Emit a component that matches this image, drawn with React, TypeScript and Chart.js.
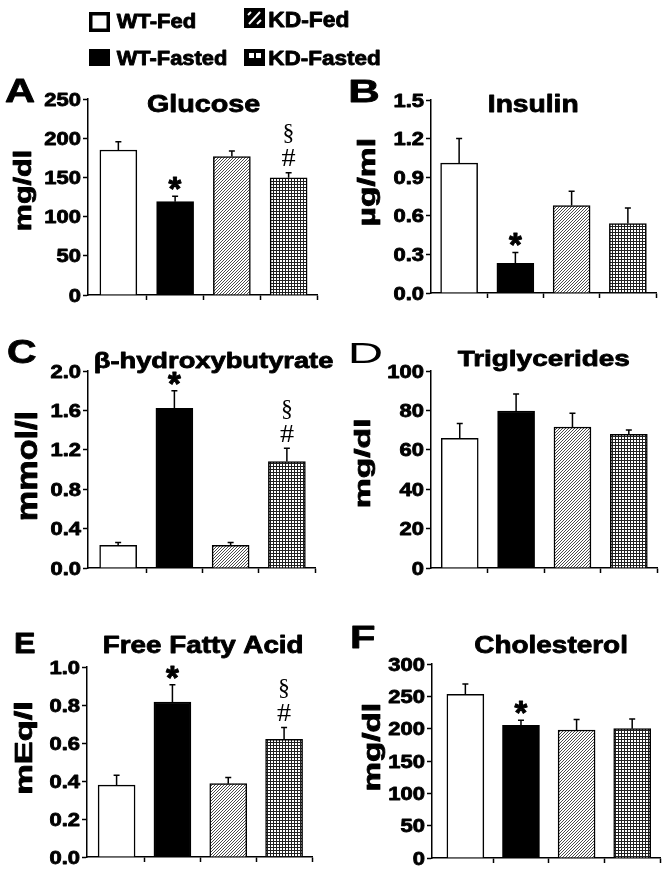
import React, { useEffect, useRef } from 'react';
import { Chart, registerables } from 'chart.js';

Chart.register(...registerables);

// ---------------- DATA ----------------
const groups = ['WT-Fed', 'WT-Fasted', 'KD-Fed', 'KD-Fasted'];
const panelLetters = ['A', 'B', 'C', 'D', 'E', 'F'];
const panelTitles = ['Glucose', 'Insulin', 'β-hydroxybutyrate', 'Triglycerides', 'Free Fatty Acid', 'Cholesterol'];
const panelUnits = ['mg/dl', 'µg/ml', 'mmol/l', 'mg/dl', 'mEq/l', 'mg/dl'];

const glucoseMean = [185, 119, 176.5, 149.6];
const glucoseSem = [10.5, 7, 7.2, 6.4];
const glucoseTicks = [0, 50, 100, 150, 200, 250];
const glucoseTickLabels = ['0', '50', '100', '150', '200', '250'];
const glucoseMarks = [[], ['*'], [], ['#', '§']];

const insulinMean = [1.01, 0.23, 0.68, 0.54];
const insulinSem = [0.19, 0.085, 0.11, 0.12];
const insulinTicks = [0, 0.3, 0.6, 0.9, 1.2, 1.5];
const insulinTickLabels = ['0.0', '0.3', '0.6', '0.9', '1.2', '1.5'];
const insulinMarks = [[], ['*'], [], []];

const bhbMean = [0.23, 1.62, 0.23, 1.08];
const bhbSem = [0.03, 0.18, 0.03, 0.135];
const bhbTicks = [0, 0.4, 0.8, 1.2, 1.6, 2.0];
const bhbTickLabels = ['0.0', '0.4', '0.8', '1.2', '1.6', '2.0'];
const bhbMarks = [[], ['*'], [], ['#', '§']];

const tgMean = [65.8, 79.7, 71.5, 67.8];
const tgSem = [7.6, 8.6, 7.1, 2.2];
const tgTicks = [0, 20, 40, 60, 80, 100];
const tgTickLabels = ['0', '20', '40', '60', '80', '100'];
const tgMarks = [[], [], [], []];

const ffaMean = [0.378, 0.816, 0.386, 0.619];
const ffaSem = [0.052, 0.091, 0.032, 0.062];
const ffaTicks = [0, 0.2, 0.4, 0.6, 0.8, 1.0];
const ffaTickLabels = ['0.0', '0.2', '0.4', '0.6', '0.8', '1.0'];
const ffaMarks = [[], ['*'], [], ['#', '§']];

const cholMean = [253, 205, 198, 200];
const cholSem = [16, 8, 16, 15];
const cholTicks = [0, 50, 100, 150, 200, 250, 300];
const cholTickLabels = ['0', '50', '100', '150', '200', '250', '300'];
const cholMarks = [[], ['*'], [], []];

const categoryBoundaries = [0.5, 1.5, 2.5, 3.5];

// ---------------- STYLE / LAYOUT ----------------
const SANS = '"Liberation Sans", Arial, Helvetica, sans-serif';
const SERIF = '"Liberation Serif", "Times New Roman", serif';
const BOLD_STROKE = 0.9;

type Panel = {
  mean: number[]; sem: number[]; ticks: number[]; tickLabels: string[]; marks: string[][];
  letter: string; title: string; unit: string;
  box: [number, number, number, number];
  area: { l: number; r: number; t: number; b: number };
  xMin: number;
  letterPos: [number, number, number, number, string];
  titlePos: [number, number, number, number];
  unitPos: [number, number, number, number];
};

const panels: Panel[] = [
  {
    mean: glucoseMean, sem: glucoseSem, ticks: glucoseTicks, tickLabels: glucoseTickLabels, marks: glucoseMarks,
    letter: panelLetters[0], title: panelTitles[0], unit: panelUnits[0],
    box: [0, 70, 336, 240], area: { l: 88, r: 317, t: 99, b: 295 }, xMin: -0.535,
    letterPos: [5, 101.7, 30, 23.3, 'bold'], titlePos: [147, 111.7, 113, 16.7], unitPos: [24.2, 190.8, 78.3, 21.7],
  },
  {
    mean: insulinMean, sem: insulinSem, ticks: insulinTicks, tickLabels: insulinTickLabels, marks: insulinMarks,
    letter: panelLetters[1], title: panelTitles[1], unit: panelUnits[1],
    box: [336, 70, 336, 240], area: { l: 431, r: 656, t: 100, b: 293 }, xMin: -0.5,
    letterPos: [351, 101.7, 26.7, 21.7, 'bold'], titlePos: [489, 111.7, 89, 16.7], unitPos: [368.5, 182.5, 85, 21.7],
  },
  {
    mean: bhbMean, sem: bhbSem, ticks: bhbTicks, tickLabels: bhbTickLabels, marks: bhbMarks,
    letter: panelLetters[2], title: panelTitles[2], unit: panelUnits[2],
    box: [0, 310, 336, 270], area: { l: 88, r: 315, t: 371, b: 568 }, xMin: -0.536,
    letterPos: [8.3, 363.3, 28.3, 23.3, 'bold'], titlePos: [95, 368, 238, 15.5], unitPos: [25.8, 466.7, 106.7, 21.7],
  },
  {
    mean: tgMean, sem: tgSem, ticks: tgTicks, tickLabels: tgTickLabels, marks: tgMarks,
    letter: panelLetters[3], title: panelTitles[3], unit: panelUnits[3],
    box: [336, 310, 336, 270], area: { l: 431, r: 657, t: 371, b: 568 }, xMin: -0.51,
    letterPos: [351, 363.3, 30, 20.3, 'normal'], titlePos: [457.7, 365.7, 171.6, 15.7], unitPos: [364.3, 463.3, 86.7, 20],
  },
  {
    mean: ffaMean, sem: ffaSem, ticks: ffaTicks, tickLabels: ffaTickLabels, marks: ffaMarks,
    letter: panelLetters[4], title: panelTitles[4], unit: panelUnits[4],
    box: [0, 580, 336, 292], area: { l: 87, r: 312, t: 667, b: 857 }, xMin: -0.53,
    letterPos: [15, 653.3, 20, 20.3, 'bold'], titlePos: [104, 652.7, 197.7, 16.7], unitPos: [25.8, 748.3, 90, 21.7],
  },
  {
    mean: cholMean, sem: cholSem, ticks: cholTicks, tickLabels: cholTickLabels, marks: cholMarks,
    letter: panelLetters[5], title: panelTitles[5], unit: panelUnits[5],
    box: [336, 580, 336, 292], area: { l: 432, r: 660, t: 664, b: 858 }, xMin: -0.6,
    letterPos: [352.7, 648.3, 21.6, 21.6, 'bold'], titlePos: [474.3, 652.7, 151.7, 16.7], unitPos: [373.5, 747.5, 85, 21.7],
  },
];

const markStyle: Record<string, { dy: number; w: number; h: number; family: string; weight: string }> = {
  '*': { dy: -12.5, w: 13, h: 12.5, family: SANS, weight: 'bold' },
  '#': { dy: -15, w: 14, h: 16, family: SERIF, weight: 'normal' },
  '§': { dy: -39, w: 10, h: 19, family: SERIF, weight: 'normal' },
};

// ---------------- TEXT HELPERS ----------------
function paint(ctx: CanvasRenderingContext2D, text: string, x: number, y: number, weight: string, sx: number) {
  ctx.fillStyle = '#000';
  ctx.fillText(text, x, y);
  if (weight === 'bold') {
    ctx.strokeStyle = '#000';
    ctx.lineJoin = 'round';
    ctx.lineWidth = BOLD_STROKE / Math.sqrt(sx);
    ctx.strokeText(text, x, y);
  }
}

function drawCapText(ctx: CanvasRenderingContext2D, text: string, left: number, baseline: number, width: number, capH: number, weight: string, family = SANS) {
  ctx.save();
  ctx.textAlign = 'left';
  ctx.textBaseline = 'alphabetic';
  ctx.font = `${weight} 100px ${family}`;
  const capA = ctx.measureText('H').actualBoundingBoxAscent || 71.6;
  const size = (100 * capH) / capA;
  ctx.font = `${weight} ${size}px ${family}`;
  const m = ctx.measureText(text);
  const inkW = m.actualBoundingBoxLeft + m.actualBoundingBoxRight;
  const sx = width / inkW;
  ctx.translate(left, baseline);
  ctx.scale(sx, 1);
  paint(ctx, text, m.actualBoundingBoxLeft, 0, weight, sx);
  ctx.restore();
}

function drawInkText(ctx: CanvasRenderingContext2D, text: string, cx: number, cy: number, w: number, h: number, weight: string, family: string, rot = 0) {
  ctx.save();
  ctx.textAlign = 'left';
  ctx.textBaseline = 'alphabetic';
  ctx.font = `${weight} 100px ${family}`;
  let m = ctx.measureText(text);
  const h100 = m.actualBoundingBoxAscent + m.actualBoundingBoxDescent;
  const size = (100 * h) / h100;
  ctx.font = `${weight} ${size}px ${family}`;
  m = ctx.measureText(text);
  const iw = m.actualBoundingBoxLeft + m.actualBoundingBoxRight;
  const sx = w / iw;
  ctx.translate(cx, cy);
  ctx.rotate(rot);
  ctx.scale(sx, 1);
  paint(ctx, text, -iw / 2 + m.actualBoundingBoxLeft, (m.actualBoundingBoxAscent - m.actualBoundingBoxDescent) / 2, weight, sx);
  ctx.restore();
}

function drawTickLabel(ctx: CanvasRenderingContext2D, text: string, right: number, cy: number) {
  ctx.save();
  ctx.textAlign = 'left';
  ctx.textBaseline = 'alphabetic';
  ctx.font = `bold 18px ${SANS}`;
  const capA = ctx.measureText('0').actualBoundingBoxAscent || 13;
  const m = ctx.measureText(text);
  ctx.translate(right, cy);
  ctx.scale(1.22, 1);
  paint(ctx, text, -m.actualBoundingBoxRight, capA / 2, 'bold', 1.22);
  ctx.restore();
}

// ---------------- PATTERNS ----------------
function makeHatch(ctx: CanvasRenderingContext2D) {
  const c = document.createElement('canvas');
  c.width = 3; c.height = 3;
  const g = c.getContext('2d')!;
  g.fillStyle = '#ffffff'; g.fillRect(0, 0, 3, 3);
  g.fillStyle = '#4a4a4a';
  for (let i = 0; i < 3; i++) g.fillRect(i, 2 - i, 1, 1);
  return ctx.createPattern(c, 'repeat')!;
}

function makeGrid(ctx: CanvasRenderingContext2D) {
  const c = document.createElement('canvas');
  c.width = 3; c.height = 3;
  const g = c.getContext('2d')!;
  g.fillStyle = '#ffffff'; g.fillRect(0, 0, 3, 3);
  g.fillStyle = '#202020';
  g.fillRect(0, 0, 3, 1);
  g.fillRect(0, 0, 1, 3);
  return ctx.createPattern(c, 'repeat')!;
}

// ---------------- CHART ----------------
function overlayPlugin(p: Panel) {
  const [bx, by] = p.box;
  return {
    id: 'overlay',
    afterDatasetsDraw(chart: any) {
      const ctx: CanvasRenderingContext2D = chart.ctx;
      const xs = chart.scales.x, ys = chart.scales.y;
      ctx.save();
      ctx.strokeStyle = '#000';
      ctx.lineWidth = 1.5;
      p.mean.forEach((m, i) => {
        const x = xs.getPixelForValue(i);
        const y0 = ys.getPixelForValue(m);
        const y1 = ys.getPixelForValue(m + p.sem[i]);
        ctx.beginPath();
        ctx.moveTo(x, y0); ctx.lineTo(x, y1);
        ctx.moveTo(x - 3, y1); ctx.lineTo(x + 3, y1);
        ctx.stroke();
        p.marks[i].forEach((s) => {
          const st = markStyle[s];
          drawInkText(ctx, s, x, y1 + st.dy, st.w, st.h, st.weight, st.family);
        });
      });
      ctx.restore();
    },
    afterDraw(chart: any) {
      const ctx: CanvasRenderingContext2D = chart.ctx;
      const ys = chart.scales.y;
      const left = chart.chartArea.left;
      p.ticks.forEach((v, i) => drawTickLabel(ctx, p.tickLabels[i], left - 7, ys.getPixelForValue(v)));
      const [lx, lb, lw, lh, lwt] = p.letterPos;
      drawCapText(ctx, p.letter, lx - bx, lb - by, lw, lh, lwt);
      const [tx, tb, tw, th] = p.titlePos;
      drawCapText(ctx, p.title, tx - bx, tb - by, tw, th, 'bold');
      const [ux, uy, ul, ut] = p.unitPos;
      drawInkText(ctx, p.unit, ux - bx, uy - by, ul, ut, 'bold', SANS, -Math.PI / 2);
    },
  };
}

function makeChart(canvas: HTMLCanvasElement, p: Panel) {
  const ctx = canvas.getContext('2d')!;
  const fills = ['#ffffff', '#000000', makeHatch(ctx), makeGrid(ctx)];
  const [bx, by, bw, bh] = p.box;
  const axisStyle = {
    grid: { display: true, drawOnChartArea: false, drawTicks: true, tickLength: 5, tickWidth: 1.5, tickColor: '#000', offset: false },
    border: { display: true, color: '#000', width: 1.5 },
    ticks: { display: false },
  };
  return new Chart(canvas, {
    type: 'bar',
    data: {
      datasets: [{
        label: p.title,
        data: p.mean.map((v, i) => ({ x: i, y: v })),
        backgroundColor: fills as any,
        borderColor: '#000',
        borderWidth: 1.5,
        barThickness: 37,
        borderSkipped: 'start',
      }],
    },
    options: {
      animation: false,
      responsive: false,
      devicePixelRatio: 1,
      events: [],
      layout: {
        padding: { left: p.area.l - bx, right: bx + bw - p.area.r, top: p.area.t - by, bottom: by + bh - p.area.b },
      },
      plugins: { legend: { display: false }, tooltip: { enabled: false }, title: { display: false } },
      scales: {
        x: {
          type: 'linear', min: p.xMin, max: 3.5, offset: false,
          afterBuildTicks: (s: any) => { s.ticks = categoryBoundaries.map((value) => ({ value })); },
          afterFit: (s: any) => { s.height = 0; },
          ...axisStyle,
        },
        y: {
          type: 'linear', min: 0, max: p.ticks[p.ticks.length - 1],
          afterBuildTicks: (s: any) => { s.ticks = p.ticks.map((value) => ({ value })); },
          afterFit: (s: any) => { s.width = 0; },
          ...axisStyle,
        },
      } as any,
    },
    plugins: [overlayPlugin(p)],
  });
}

// ---------------- LEGEND ----------------
function drawLegend(cv: HTMLCanvasElement) {
  const ctx = cv.getContext('2d')!;
  ctx.clearRect(0, 0, cv.width, cv.height);
  ctx.fillStyle = '#000';
  // WT-Fed: open box
  ctx.fillRect(89, 12, 21, 20);
  ctx.fillStyle = '#fff';
  ctx.fillRect(92.5, 15.5, 14, 13);
  // WT-Fasted: solid
  ctx.fillStyle = '#000';
  ctx.fillRect(89, 49, 21, 17);
  // KD-Fed: hatched icon
  ctx.fillRect(244, 8, 21, 20);
  ctx.strokeStyle = '#fff';
  ctx.lineWidth = 2;
  ctx.beginPath();
  ctx.moveTo(249, 24); ctx.lineTo(260, 12);
  ctx.moveTo(248, 15); ctx.lineTo(251, 12);
  ctx.moveTo(257, 24); ctx.lineTo(261, 20);
  ctx.stroke();
  // KD-Fasted: grid icon
  ctx.fillStyle = '#000';
  ctx.fillRect(244, 49, 21, 17);
  ctx.fillStyle = '#fff';
  ctx.fillRect(249, 53, 5, 5);
  ctx.fillRect(256, 53, 5, 5);

  drawCapText(ctx, groups[0], 116.7, 28, 78.3, 14, 'bold');
  drawCapText(ctx, groups[1], 116.7, 65, 110, 14.5, 'bold');
  drawCapText(ctx, groups[2], 269.3, 27, 79, 15, 'bold');
  drawCapText(ctx, groups[3], 269.3, 65, 110.7, 14.5, 'bold');
}

export default function App() {
  const refs = useRef<(HTMLCanvasElement | null)[]>([]);
  const legendRef = useRef<HTMLCanvasElement | null>(null);

  useEffect(() => {
    const charts = panels.map((p, i) => makeChart(refs.current[i]!, p));
    if (legendRef.current) drawLegend(legendRef.current);
    return () => charts.forEach((c) => c.destroy());
  }, []);

  return (
    <div style={{ position: 'absolute', left: 0, top: 0, width: 672, height: 872, background: '#fff', overflow: 'hidden' }}>
      <canvas ref={legendRef} width={672} height={70} style={{ position: 'absolute', left: 0, top: 0 }} />
      {panels.map((p, i) => (
        <canvas
          key={i}
          ref={(el) => { refs.current[i] = el; }}
          width={p.box[2]}
          height={p.box[3]}
          style={{ position: 'absolute', left: p.box[0], top: p.box[1], width: p.box[2], height: p.box[3] }}
        />
      ))}
    </div>
  );
}
